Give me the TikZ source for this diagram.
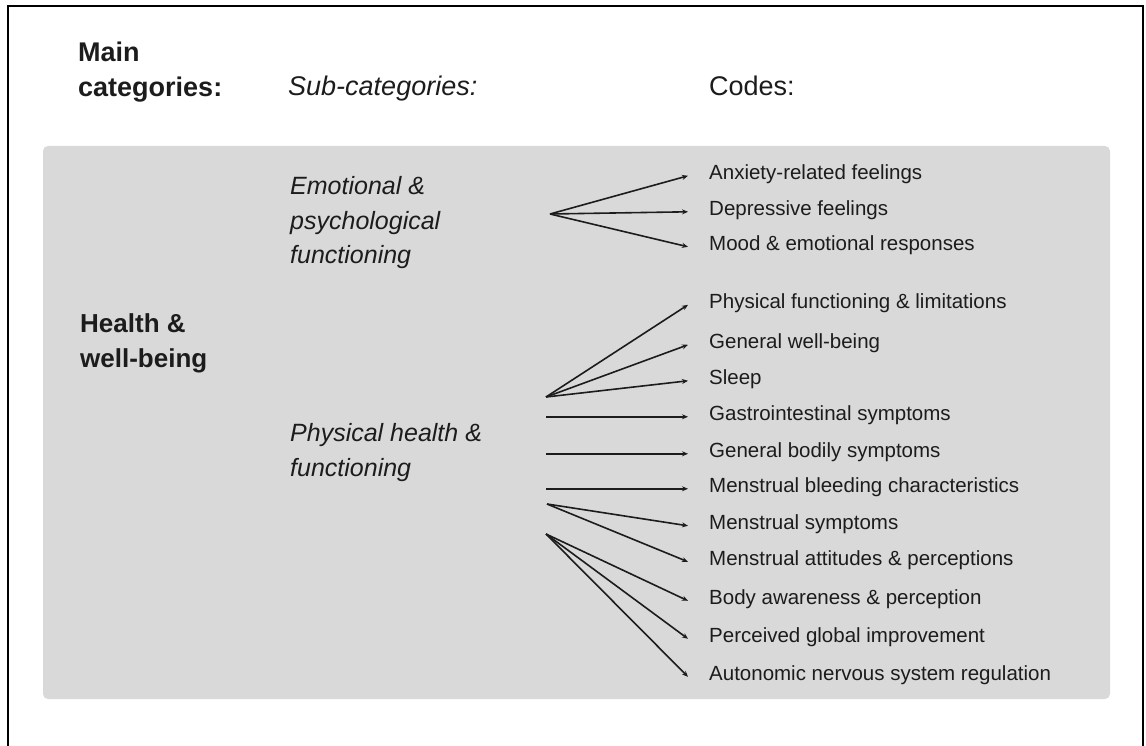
\documentclass[tikz,border=0pt]{standalone}
\usepackage{fontspec}
\setmainfont{Liberation Sans}
\usetikzlibrary{arrows.meta}
\definecolor{panelgray}{HTML}{D9D9D9}
\definecolor{inkgray}{HTML}{1C1C1C}
\tikzset{
	headbold/.style={anchor=base west, inner sep=0, align=left, text=inkgray, font=\fontsize{27}{35}\selectfont\bfseries},
	headital/.style={anchor=base west, inner sep=0, text=inkgray, font=\fontsize{27}{35}\selectfont\itshape},
	headplain/.style={anchor=base west, inner sep=0, text=inkgray, font=\fontsize{27}{35}\selectfont},
	maincat/.style={anchor=base west, inner sep=0, align=left, text=inkgray, font=\fontsize{26}{35}\selectfont\bfseries},
	subcat/.style={anchor=base west, inner sep=0, align=left, text=inkgray, font=\fontsize{25}{35}\selectfont\itshape},
	code/.style={anchor=base west, inner sep=0, text height=0.72em, text depth=0pt, text=inkgray, font=\fontsize{20.5}{24}\selectfont},
	codearrow/.style={line width=1.6pt, draw=inkgray, -{Stealth[length=6pt,width=5pt]}}
}

\begin{document}
\begin{tikzpicture}[x=1pt, y=-1pt]
			%%%%% START %%%%%
			\useasboundingbox (0, 0) rectangle (1146, 746);
			
			\draw[line width=2pt, color=black] (8, 760) -- (8, 6) -- (1143, 6) -- (1143, 760);
			\fill[panelgray, rounded corners=5pt] (43, 146) rectangle (1110, 699);
			
			% column heads (base = last line)
			\node[headbold] (mainhead) at (78, 97) {Main\\categories:};
			\node[headital] (subhead) at (288, 96) {Sub-categories:};
			\node[headplain] (codehead) at (709, 96) {Codes:};
			
			\node[maincat] (health) at (80, 367) {Health \&\\well-being};
			
			\node[subcat] (emotional) at (290, 264) {Emotional \&\\psychological\\functioning};
			\node[subcat] (physical) at (290, 476) {Physical health \&\\functioning};
			
			\node[code] (c1) at (709, 179.4) {Anxiety-related feelings};
			\node[code] (c2) at (709, 215.4) {Depressive feelings};
			\node[code] (c3) at (709, 250.4) {Mood \& emotional responses};
			\node[code] (c4) at (709, 308.4) {Physical functioning \& limitations};
			\node[code] (c5) at (709, 348.4) {General well-being};
			\node[code] (c6) at (709, 384.4) {Sleep};
			\node[code] (c7) at (709, 420.4) {Gastrointestinal symptoms};
			\node[code] (c8) at (709, 457.4) {General bodily symptoms};
			\node[code] (c9) at (709, 492.4) {Menstrual bleeding characteristics};
			\node[code] (c10) at (709, 529.4) {Menstrual symptoms};
			\node[code] (c11) at (709, 565.4) {Menstrual attitudes \& perceptions};
			\node[code] (c12) at (709, 604.4) {Body awareness \& perception};
			\node[code] (c13) at (709, 642.4) {Perceived global improvement};
			\node[code] (c14) at (709, 680.4) {Autonomic nervous system regulation};
			
			% fan-out points
			\coordinate (emofan) at (550, 214);
			\coordinate (phyfan) at (546, 397);
			\coordinate (menfan) at (547, 504);
			\coordinate (bodyfan) at (546, 534);
			
			\foreach \c in {c1, c2, c3}
				\draw[codearrow] (emofan) -- ([xshift=-21pt]\c.west);
			\foreach \c in {c4, c5, c6}
				\draw[codearrow] (phyfan) -- ([xshift=-21pt]\c.west);
			\foreach \c in {c7, c8, c9}
				\draw[codearrow] (\c.west -| phyfan) -- ([xshift=-21pt]\c.west);
			\foreach \c in {c10, c11}
				\draw[codearrow] (menfan) -- ([xshift=-21pt]\c.west);
			\foreach \c in {c12, c13, c14}
				\draw[codearrow] (bodyfan) -- ([xshift=-21pt]\c.west);
			
			%%%%% END %%%%%
\end{tikzpicture}
\end{document}
